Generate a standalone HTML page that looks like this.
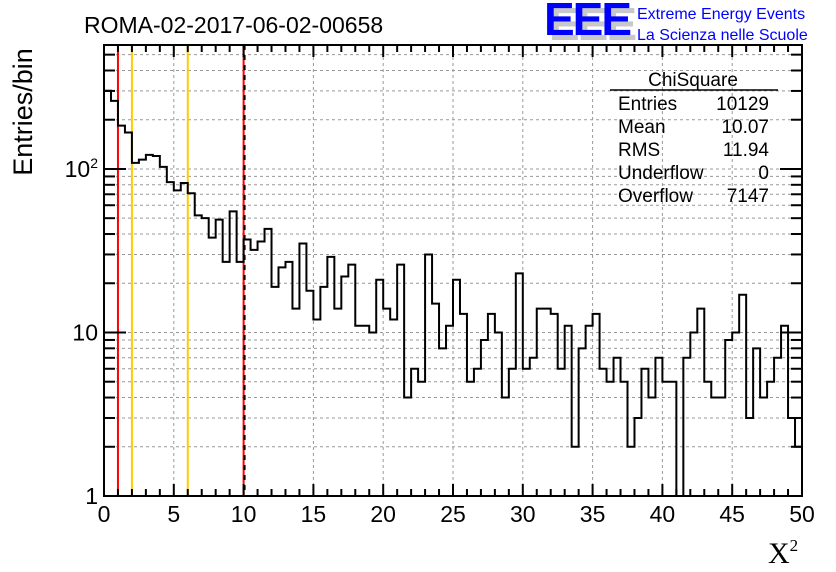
<!DOCTYPE html>
<html><head><meta charset="utf-8"><style>
html,body{margin:0;padding:0;background:#fff;}
svg{display:block;font-family:"Liberation Sans",sans-serif;}
</style></head><body>
<svg id="chart" width="836" height="572" viewBox="0 0 836 572" xmlns="http://www.w3.org/2000/svg">
<rect width="836" height="572" fill="#fff"/>
<g id="grid"></g>
<g id="marks"></g>
<g id="axes"></g>
<text x="84" y="33" font-size="23">ROMA-02-2017-06-02-00658</text>
<text transform="translate(32,112) rotate(-90)" text-anchor="middle" font-size="27">Entries/bin</text>
<text x="768" y="563" font-family="Liberation Serif,serif" font-size="30">X<tspan font-size="17" dy="-12">2</tspan></text>
<g>
<text x="549" y="40" font-size="46" font-weight="bold" fill="#c8c8c8" letter-spacing="-2">EEE</text>
<text x="544" y="35" font-size="46" font-weight="bold" fill="#0000ff" letter-spacing="-2">EEE</text>
<text x="637" y="19" font-size="16" fill="#0000ff">Extreme Energy Events</text>
<text x="637" y="40" font-size="16" fill="#0000ff">La Scienza nelle Scuole</text>
</g>
<g font-size="19">
<text x="693" y="86" text-anchor="middle">ChiSquare</text>
<line x1="610" y1="90" x2="778" y2="90" stroke="#000" stroke-width="1.5"/>
<text x="618" y="110">Entries</text><text x="769" y="110" text-anchor="end">10129</text>
<text x="618" y="133">Mean</text><text x="769" y="133" text-anchor="end">10.07</text>
<text x="618" y="156">RMS</text><text x="769" y="156" text-anchor="end">11.94</text>
<text x="618" y="179">Underflow</text><text x="769" y="179" text-anchor="end">0</text>
<text x="618" y="202">Overflow</text><text x="769" y="202" text-anchor="end">7147</text>
</g>
</svg>
<script>
const counts = [301,261,184,167,109,114,122,120,103,83,74,82,71,52,50,38,49,27,55,27,
37,32,36,43,19,25,27,14,35,18,12,19,29,14,22,26,11,11,10,21,
14,12,26,4,6,5,30,15,8,11,21,13,5,6,9,13,10,4,6,23,
6,7,14,14,13,6,11,2,8,11,13,6,5,7,5,2,3,6,4,7,
5,5,0,7,10,14,5,4,4,9,10,17,3,8,4,5,7,11,3,2];
const binEdges = [0,50];
const xTicks = [0,5,10,15,20,25,30,35,40,45,50];
const yTicks = [1,10,100];
const yTickLabels = ["1","10","10²"];
const cutLines = [1,2,6,10];

const L=104,R=802,T=45,B=496,YMIN=0,YMAX=2.758;
const NS="http://www.w3.org/2000/svg";
function xs(v){return L+(v-binEdges[0])/(binEdges[1]-binEdges[0])*(R-L);}
function ys(v){if(v<=1)return B;const l=Math.log10(v);return Math.max(T,B-(l-YMIN)/(YMAX-YMIN)*(B-T));}
function mk(tag,attrs,parent){const e=document.createElementNS(NS,tag);for(const k in attrs)e.setAttribute(k,attrs[k]);parent.appendChild(e);return e;}
const grid=document.getElementById('grid'),marks=document.getElementById('marks'),axes=document.getElementById('axes');
for(const t of xTicks){if(t===0||t===50)continue;
 const g=mk('line',{x1:xs(t),x2:xs(t),y1:T,y2:B,stroke:'#999','stroke-dasharray':'3,3','stroke-width':1},grid);
 
 }
for(let d=0;d<3;d++)for(let m=1;m<=9;m++){const v=m*Math.pow(10,d);if(v===1)continue;const y=ys(v);if(y<=T+0.5)continue;
 const g=mk('line',{x1:L,x2:R,y1:y,y2:y,stroke:'#999','stroke-dasharray':'3,3','stroke-width':1},grid);
 
 }
cutLines.forEach((c,i)=>{const col=(c===2||c===6)?'#ffcc00':'#ff0000';
 const l=mk('line',{x1:xs(c),x2:xs(c),y1:T,y2:B,stroke:col,'stroke-width':2},marks);
 
 
 if(c===10){const d=mk('line',{x1:xs(c)+1,x2:xs(c)+1,y1:T,y2:B,stroke:'#000','stroke-width':2,'stroke-dasharray':'5,5'},marks);
  
  }
});
const n=counts.length,w=(binEdges[1]-binEdges[0])/n;
let p='M'+xs(0)+','+ys(counts[0]);
for(let i=0;i<n;i++){const x0=xs(binEdges[0]+i*w),x1=xs(binEdges[0]+(i+1)*w),y=ys(counts[i]);p+=' L'+x0+','+y+' L'+x1+','+y;}
const h=mk('path',{d:p,fill:'none',stroke:'#000','stroke-width':2},marks);


const fr=mk('rect',{x:L,y:T,width:R-L,height:B-T,fill:'none',stroke:'#000','stroke-width':2},axes);


for(let t=0;t<=50;t++){const major=t%5===0,len=major?12:7,x=xs(t);
 mk('line',{x1:x,x2:x,y1:B,y2:B-len,stroke:'#000','stroke-width':2},axes);
 mk('line',{x1:x,x2:x,y1:T,y2:T+len,stroke:'#000','stroke-width':2},axes);}
xTicks.forEach(t=>{const tx=mk('text',{x:xs(t),y:522,'text-anchor':'middle','font-size':23},axes);tx.textContent=t;
 
 });
for(let d=0;d<3;d++)for(let m=1;m<=9;m++){const v=m*Math.pow(10,d);const y=ys(v);if(y<T)continue;const len=m===1?22:11;
 mk('line',{x1:L,x2:L+len,y1:y,y2:y,stroke:'#000','stroke-width':2},axes);
 mk('line',{x1:R,x2:R-len,y1:y,y2:y,stroke:'#000','stroke-width':2},axes);}
yTicks.forEach((t,i)=>{const tx=mk('text',{x:98,y:ys(t)+8,'text-anchor':'end','font-size':23},axes);
 if(i===2){tx.textContent='10';const s=mk('tspan',{'font-size':14,dy:-9},tx);s.textContent='2';}else tx.textContent=yTickLabels[i];
 
 });
</script>
</body></html>
